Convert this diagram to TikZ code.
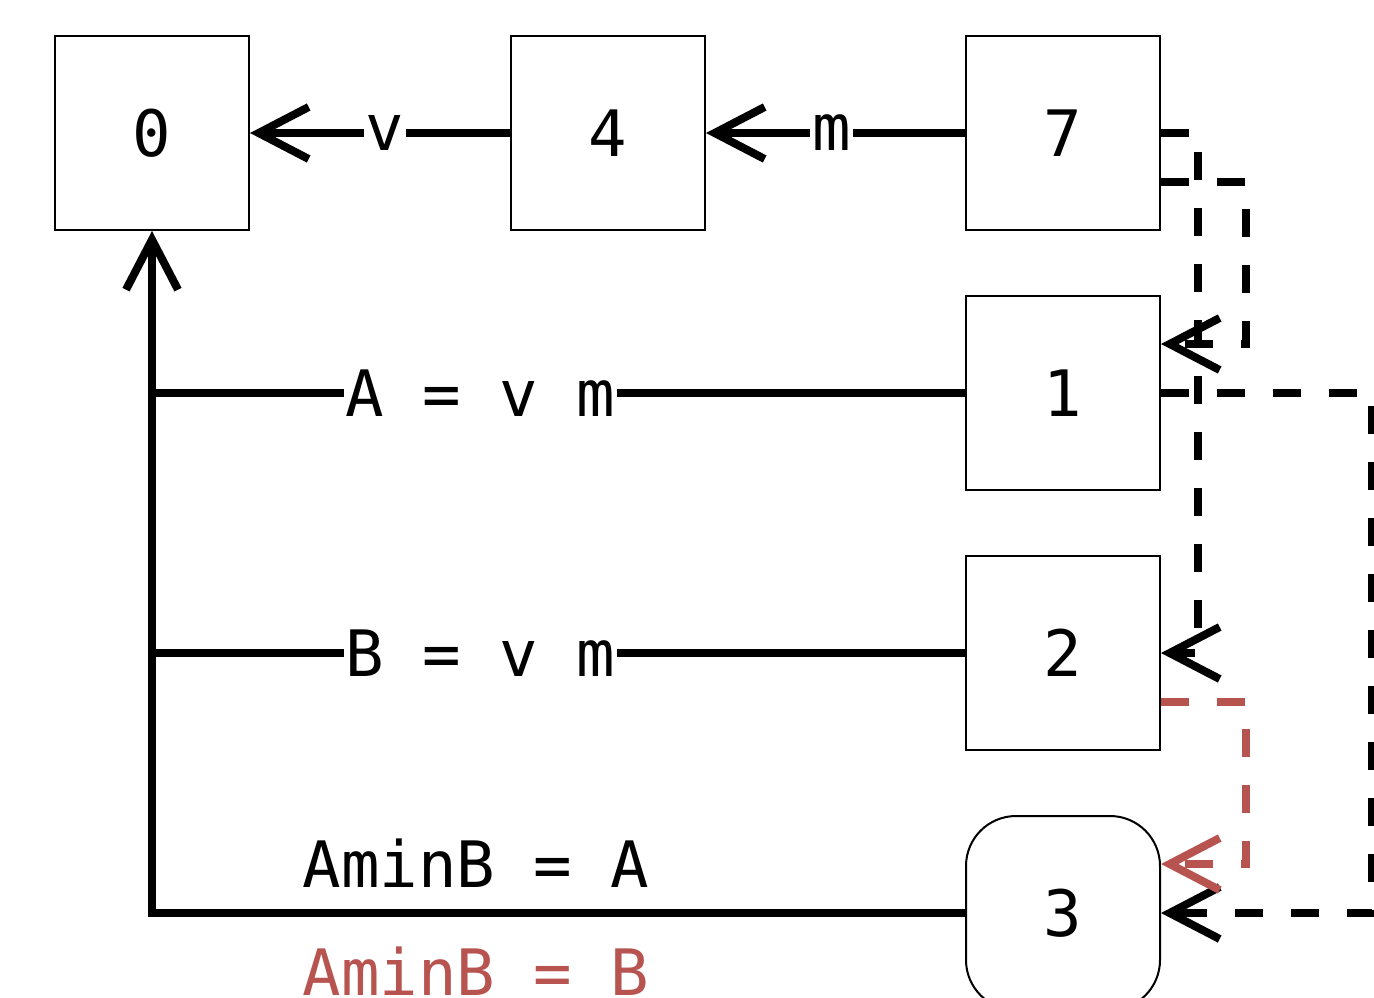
\documentclass[tikz,border=0pt]{standalone}
\usepackage{fontspec}
\setmonofont[RawFeature=+zero]{DejaVu Sans Mono}
\usetikzlibrary{arrows.meta,calc}

\definecolor{flowred}{HTML}{B85450}

\begin{document}
\begin{tikzpicture}[x=0.5pt, y=-0.5pt,
    font=\ttfamily\fontsize{32}{38}\selectfont,
    state/.style={draw, line width=1pt, fill=white, minimum size=97pt, inner sep=0pt},
    link/.style={line width=4pt},
    flow/.style={link, -{Straight Barb[length=25pt, width=26pt]}},
    jump/.style={flow, dash pattern=on 14pt off 14pt},
    lbl/.style={fill=white, inner sep=1pt}]
  \useasboundingbox (0, 0) rectangle (1374, 997);

  \node[state] (n0) at (152, 133) {0};
  \node[state] (n4) at (608, 133) {4};
  \node[state] (n7) at (1063, 133) {7};
  \node[state] (n1) at (1063, 393) {1};
  \node[state] (n2) at (1063, 653) {2};
  \node[state, rounded corners=25pt] (n3) at (1063, 913) {3};

  \draw[flow] (n4) -- (n0) node[lbl, pos=0.48] {v};
  \draw[flow] (n7) -- (n4) node[lbl, pos=0.515] {m};

  \draw[flow] (n3.west) -- (n3.west -| n0) -- (n0.south);
  \draw[link] (n1.west) -- (n1.west -| n0) node[lbl, pos=0.596] {A = v m};
  \draw[link] (n2.west) -- (n2.west -| n0) node[lbl, pos=0.596] {B = v m};
  \node (amina) at (476, 863) {AminB = A};
  \node[text=flowred] (aminb) at (476, 971) {AminB = B};

  \draw[jump] (n7.east) -- ++(37, 0) |- (n2.east);
  \draw[jump] ($(n7.east)!0.5!(n7.south east)$) -- ++(85, 0) |- ($(n1.east)!0.5!(n1.north east)$);
  \draw[jump] (n1.east) -- ++(211, 0) |- (n3.east);
  \draw[jump, flowred] ($(n2.east)!0.5!(n2.south east)$) -- ++(85, 0) |- ($(n3.east)!0.5!(n3.north east)$);
\end{tikzpicture}
\end{document}
